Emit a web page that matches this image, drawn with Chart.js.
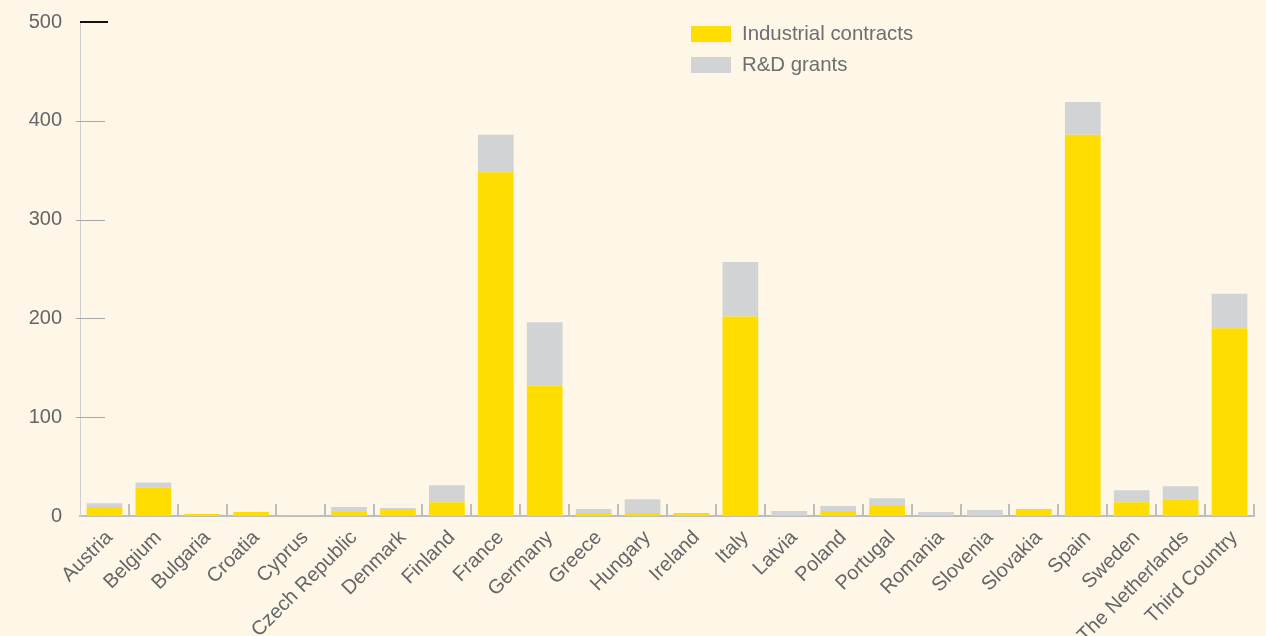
<!DOCTYPE html>
<html>
<head>
<meta charset="utf-8">
<script src="https://cdn.jsdelivr.net/npm/chart.js@4"></script>
<style>
  html, body { margin: 0; padding: 0; background: #fef7e7; }
  #wrap { position: relative; width: 1266px; height: 636px; }
  #legend { position: absolute; left: 691px; top: 18px; font-family: 'Liberation Sans', Arial, sans-serif; font-size: 20.4px; color: #6d6e71; }
  #legend div { height: 31px; display: flex; align-items: center; }
  #legend span.box { display: inline-block; width: 40px; height: 16px; margin-right: 11px; }
</style>
</head>
<body>
<div id="wrap">
  <canvas id="chart" width="1266" height="636"></canvas>
  <div id="legend"></div>
</div>
<script>
// categories
const paises = ['Austria', 'Belgium', 'Bulgaria', 'Croatia', 'Cyprus', 'Czech Republic', 'Denmark',
  'Finland', 'France', 'Germany', 'Greece', 'Hungary', 'Ireland', 'Italy', 'Latvia', 'Poland',
  'Portugal', 'Romania', 'Slovenia', 'Slovakia', 'Spain', 'Sweden', 'The Netherlands', 'Third Country'];

// series
const contratos = [9, 29, 2, 4, 0.5, 4, 7, 14, 348, 132, 3, 3, 3, 202, 1, 5, 10, 1, 1, 7, 386, 14, 17, 190];
const becasID = [4, 5, 0, 0, 0, 5, 1, 17, 38, 64, 4, 14, 0, 55, 4, 5, 8, 3, 5, 0, 33, 12, 13, 35];

const valoresY = [0, 100, 200, 300, 400, 500];

const amarillo = '#ffdd00';
const gris = '#d1d3d4';
const texto = '#646568';

// marcas de los ejes (ticks hacia dentro y raya negra en 500)
const marcas = {
  id: 'marcas',
  afterDraw(chart) {
    const c = chart.ctx;
    const x = chart.scales.x, y = chart.scales.y;
    const base = y.getPixelForValue(0);
    c.save();
    // ticks verticales entre categorias
    c.strokeStyle = '#bdbdbd';
    c.lineWidth = 2;
    for (let i = 1; i <= paises.length; i++) {
      const px = i < paises.length
        ? (x.getPixelForValue(i - 1) + x.getPixelForValue(i)) / 2
        : x.right;
      c.beginPath();
      c.moveTo(Math.round(px), base);
      c.lineTo(Math.round(px), base - 12);
      c.stroke();
    }
    // ticks horizontales
    c.strokeStyle = '#a7a7a7';
    c.lineWidth = 1;
    valoresY.slice(1, -1).forEach(v => {
      const py = Math.round(y.getPixelForValue(v)) + 0.5;
      c.beginPath();
      c.moveTo(x.left - 4, py);
      c.lineTo(x.left + 25, py);
      c.stroke();
    });
    // raya negra arriba
    c.strokeStyle = '#111';
    c.lineWidth = 2;
    const top = y.getPixelForValue(500);
    c.beginPath();
    c.moveTo(x.left, top);
    c.lineTo(x.left + 28, top);
    c.stroke();
    c.restore();
  }
};

const grafico = new Chart(document.getElementById('chart'), {
  type: 'bar',
  data: {
    labels: paises,
    datasets: [
      { label: 'Industrial contracts', data: contratos, backgroundColor: amarillo, barPercentage: 0.73, categoryPercentage: 1 },
      { label: 'R&D grants', data: becasID, backgroundColor: gris, barPercentage: 0.73, categoryPercentage: 1 }
    ]
  },
  options: {
    responsive: false,
    animation: false,
    layout: { padding: { top: 16, right: 12, left: 0, bottom: 0 } },
    scales: {
      x: {
        stacked: true,
        grid: { display: false },
        border: { color: '#bdbdbd', width: 2 },
        ticks: {
          color: texto,
          font: { family: 'Liberation Sans', size: 20 },
          maxRotation: 45,
          minRotation: 45,
          autoSkip: false,
          padding: 2,
          labelOffset: 5
        },
        afterFit(s) { s.height = 120; }
      },
      y: {
        stacked: true,
        min: 0,
        max: 500,
        grid: { display: false },
        border: { color: '#cfcfcf', width: 1 },
        ticks: {
          color: texto,
          font: { family: 'Liberation Sans', size: 20 },
          stepSize: 100,
          padding: 10
        },
        afterFit(s) { s.width = 80; }
      }
    },
    plugins: {
      legend: { display: false },
      tooltip: { enabled: false }
    }
  },
  plugins: [marcas]
});

// leyenda en html
const leyenda = document.getElementById('legend');
grafico.data.datasets.forEach(ds => {
  const fila = document.createElement('div');
  const caja = document.createElement('span');
  caja.className = 'box';
  caja.style.background = ds.backgroundColor;
  fila.appendChild(caja);
  fila.appendChild(document.createTextNode(ds.label));
  leyenda.appendChild(fila);
});
</script>
</body>
</html>
